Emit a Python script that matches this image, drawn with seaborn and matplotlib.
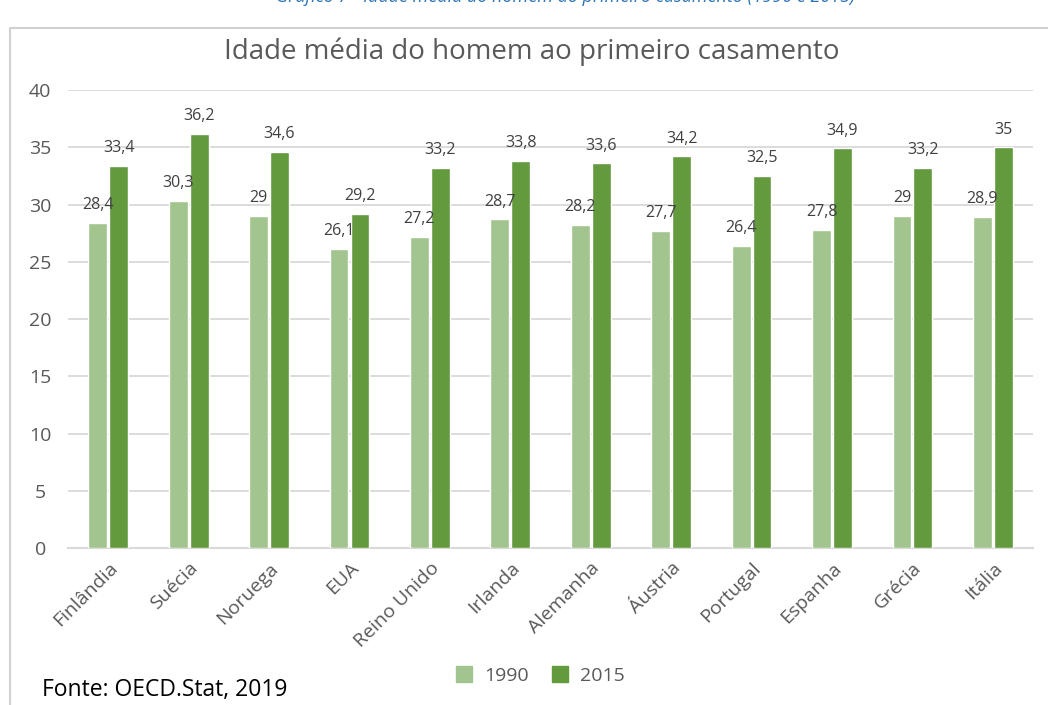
import matplotlib
matplotlib.use("Agg")
import matplotlib.pyplot as plt
from matplotlib.lines import Line2D
import pandas as pd
import seaborn as sns

# ── data ──────────────────────────────────────────────────────────────────────
paises = ["Finlândia", "Suécia", "Noruega", "EUA", "Reino Unido", "Irlanda",
          "Alemanha", "Áustria", "Portugal", "Espanha", "Grécia", "Itália"]
anos = ["1990", "2015"]
idade_1990 = [28.4, 30.3, 29, 26.1, 27.2, 28.7, 28.2, 27.7, 26.4, 27.8, 29, 28.9]
idade_2015 = [33.4, 36.2, 34.6, 29.2, 33.2, 33.8, 33.6, 34.2, 32.5, 34.9, 33.2, 35]
y_ticks = [0, 5, 10, 15, 20, 25, 30, 35, 40]

cores = {"1990": "#A2C48F", "2015": "#629A3D"}
cinza = "#595959"

df = pd.DataFrame({
    "pais": paises * 2,
    "ano": [anos[0]] * len(paises) + [anos[1]] * len(paises),
    "idade": idade_1990 + idade_2015,
})

sns.set_style("white")
plt.rcParams["font.family"] = ["Open Sans", "DejaVu Sans"]

fig = plt.figure(figsize=(10.48, 7.05), dpi=100)
ax = fig.add_axes([0.0649, 0.2227, 0.9208, 0.6496])

sns.barplot(data=df, x="pais", y="idade", hue="ano", palette=cores,
            saturation=1, width=0.52, gap=0.1, ax=ax, legend=False, zorder=3)

def fmt(v):
    return str(int(v)) if float(v).is_integer() else str(v).replace(".", ",")

for cont in ax.containers:
    ax.bar_label(cont, labels=[fmt(b.get_height()) for b in cont],
                 padding=7, fontsize=11.5, color="#404040")

ax.set_ylim(0, 40)
ax.set_yticks(y_ticks)
ax.set_xlim(-0.5, len(paises) - 0.5)
ax.set_xlabel("")
ax.set_ylabel("")
ax.yaxis.grid(True, color="#D9D9D9", lw=1.3, zorder=0)
ax.set_axisbelow(True)
for s in ["top", "right", "left"]:
    ax.spines[s].set_visible(False)
ax.spines["bottom"].set_color("#D9D9D9")
ax.spines["bottom"].set_linewidth(1.5)
ax.tick_params(axis="both", length=0, colors=cinza, labelsize=14)
ax.tick_params(axis="y", pad=20)
ax.tick_params(axis="x", pad=8)
plt.setp(ax.get_yticklabels(), ha="center")
plt.setp(ax.get_xticklabels(), rotation=45, ha="right", rotation_mode="anchor")

# title and caption
fig.text(0.507, 0.926, "Idade média do homem ao primeiro casamento",
         ha="center", va="center", fontsize=20, color=cinza)
fig.text(0.54, 1.004, "Gráfico 7 - Idade média do homem ao primeiro casamento (1990 e 2015)",
         ha="center", va="center", fontsize=13, color="#2E75B6", style="italic")

# legend
handles = [Line2D([], [], marker="s", ls="", ms=11, color=cores[a]) for a in anos]
fig.legend(handles, anos, loc="center", bbox_to_anchor=(0.51, 0.041), ncol=2,
           frameon=False, fontsize=14, labelcolor=cinza, handletextpad=0.05,
           columnspacing=0.6)

fig.text(0.04, 0.021, "Fonte: OECD.Stat, 2019", ha="left", va="center",
         fontsize=16.5, color="black")

# chart frame
fig.add_artist(Line2D([0.0095, 0.0095, 1.0], [0.0, 0.960, 0.960],
                      transform=fig.transFigure, color="#D0D0D0", lw=1.5))

fig.savefig("out.png", dpi=100)
